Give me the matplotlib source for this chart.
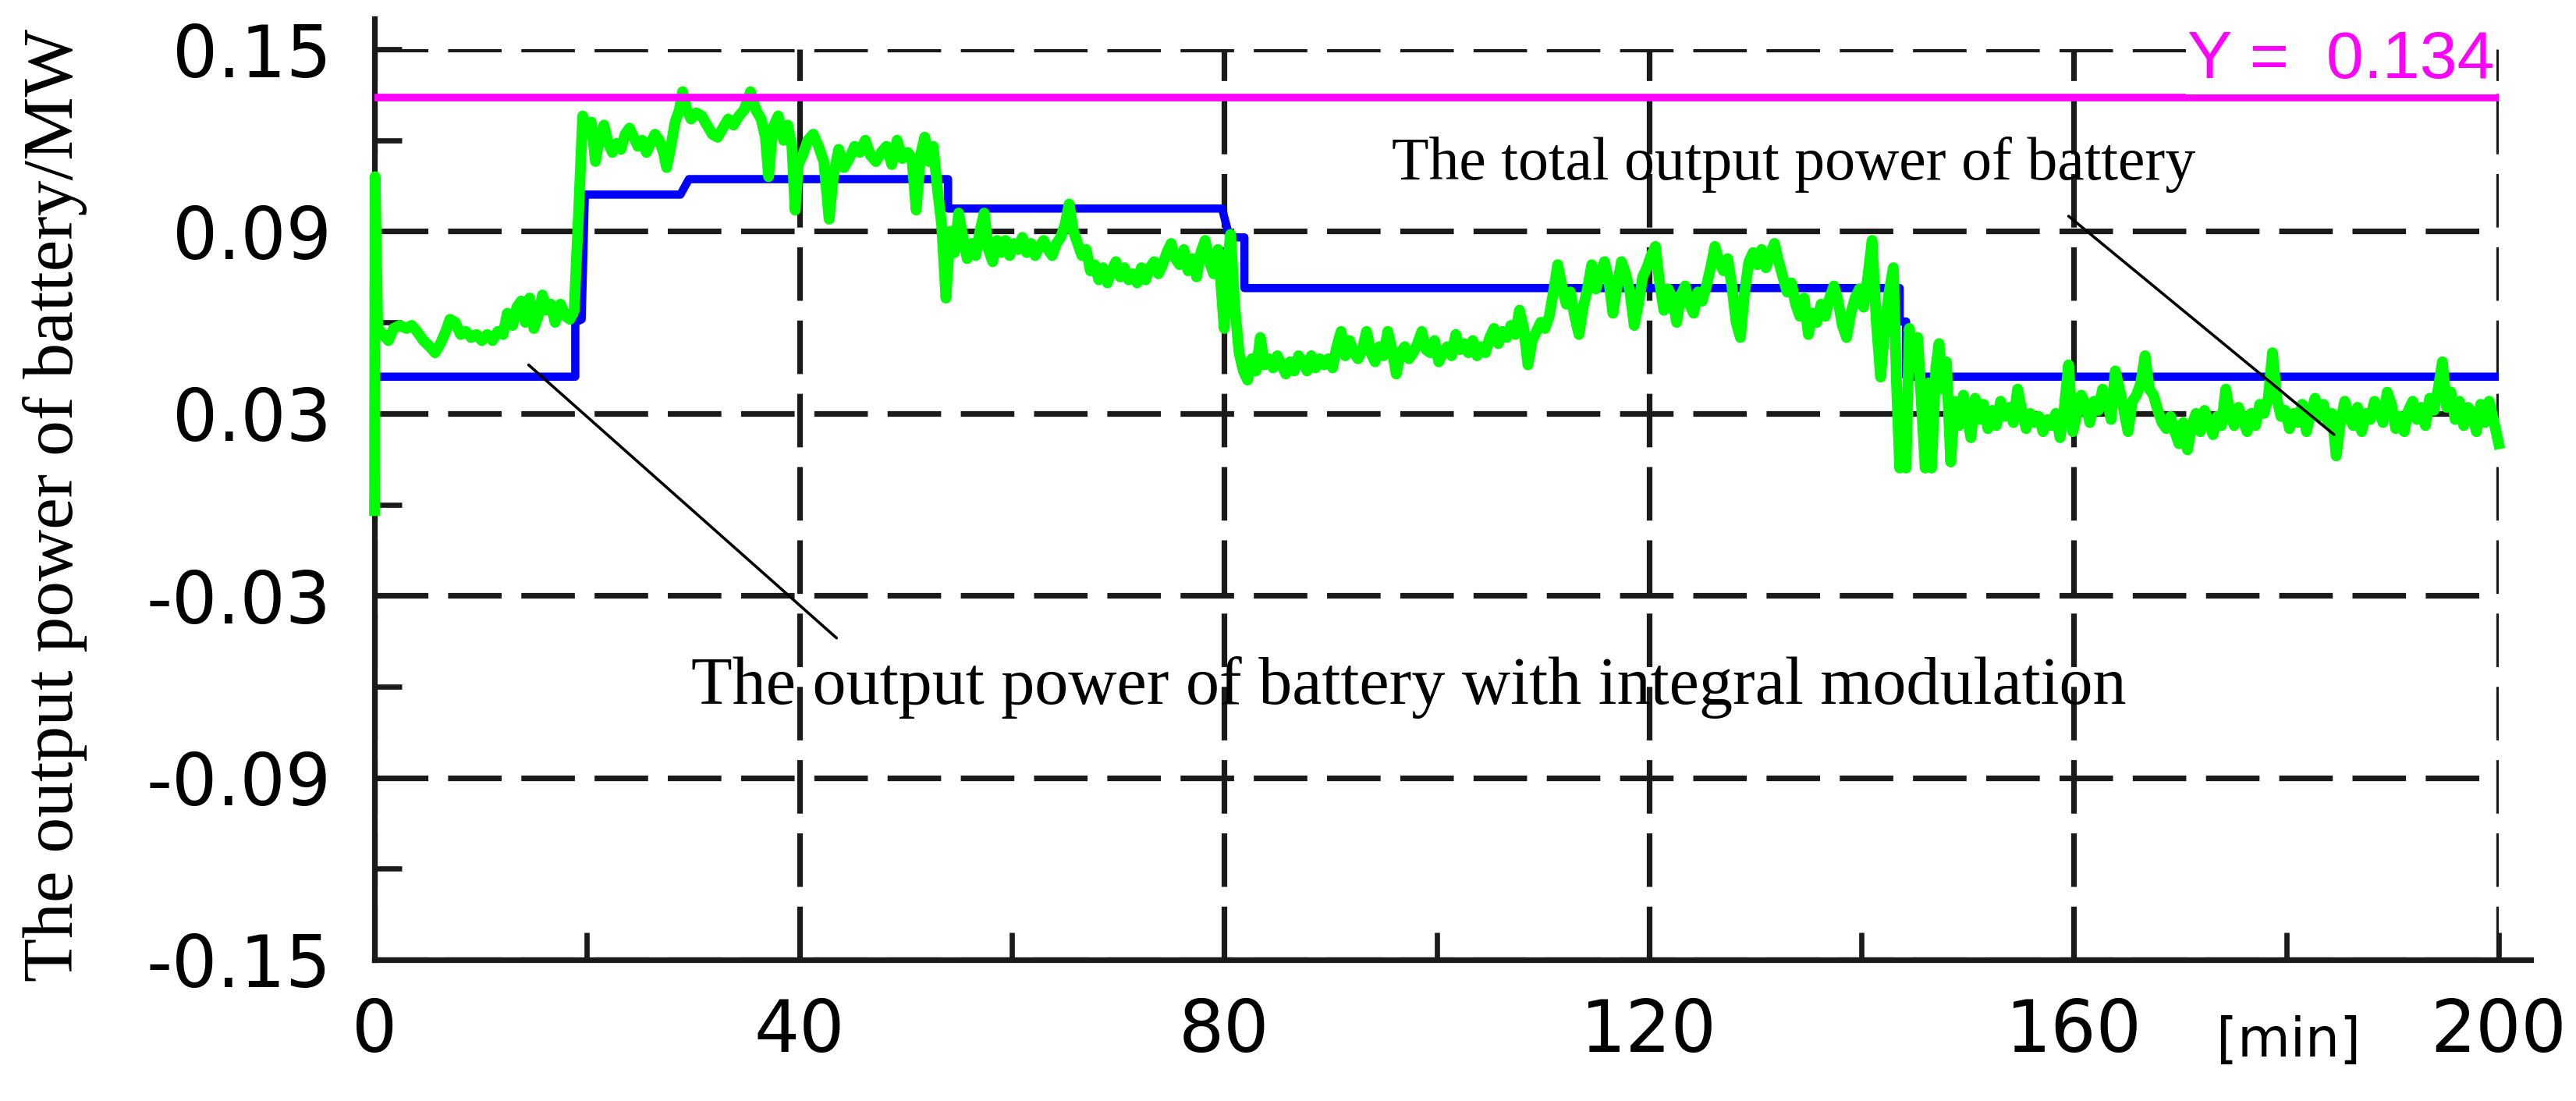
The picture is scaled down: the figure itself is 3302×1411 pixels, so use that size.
import matplotlib
matplotlib.use("Agg")
import matplotlib.pyplot as plt
from matplotlib.ticker import FixedLocator, FixedFormatter

plt.rcParams["axes.unicode_minus"] = False

# ── data ────────────────────────────────────────────────────────────
# total output power of battery (green), (minute, MW)
total_seg1 = [
    (0.0, -0.002), (0.05, 0.108), (0.3, 0.058), (0.8, 0.056), (1.3, 0.054),
    (1.8, 0.058), (2.4, 0.059), (3.0, 0.058), (3.5, 0.059), (4.0, 0.057),
    (4.6, 0.054), (5.2, 0.052), (5.7, 0.050), (6.2, 0.053), (6.7, 0.057),
    (7.1, 0.061), (7.6, 0.060), (8.1, 0.056), (8.6, 0.057), (9.1, 0.055),
    (9.6, 0.056), (10.1, 0.054), (10.6, 0.056), (11.1, 0.054), (11.6, 0.057),
    (12.1, 0.056), (12.5, 0.063), (13.0, 0.059), (13.4, 0.065), (13.8, 0.067),
    (14.2, 0.060), (14.6, 0.068), (15.0, 0.058), (15.4, 0.062), (15.8, 0.069),
    (16.2, 0.064), (16.6, 0.066), (17.0, 0.060), (17.5, 0.066), (18.0, 0.062),
    (18.4, 0.061), (18.8, 0.064), (19.0, 0.080), (19.2, 0.095), (19.4, 0.112),
]
total_seg2 = [
    (19.6, 0.128), (20.0, 0.122), (20.4, 0.126), (20.8, 0.113), (21.2, 0.121),
    (21.6, 0.125), (22.0, 0.119), (22.4, 0.116), (22.8, 0.119), (23.2, 0.117),
    (23.6, 0.122), (24.0, 0.124), (24.4, 0.121), (24.8, 0.118), (25.2, 0.120),
    (25.6, 0.116), (26.0, 0.119), (26.4, 0.122), (26.8, 0.120), (27.2, 0.116),
    (27.5, 0.111), (27.9, 0.118), (28.3, 0.126), (28.7, 0.130), (29.0, 0.136),
    (29.4, 0.130), (29.8, 0.127), (30.3, 0.129), (30.8, 0.128), (31.3, 0.125),
    (31.8, 0.122), (32.3, 0.121), (32.8, 0.124), (33.3, 0.127), (33.8, 0.125),
    (34.3, 0.128), (34.8, 0.130), (35.4, 0.136), (35.9, 0.130), (36.4, 0.127),
    (36.8, 0.121), (37.1, 0.108), (37.5, 0.124), (38.0, 0.128), (38.5, 0.120),
    (38.9, 0.125), (39.3, 0.118), (39.6, 0.097), (39.9, 0.112), (40.3, 0.115),
    (40.8, 0.120), (41.3, 0.122), (41.8, 0.118), (42.3, 0.113), (42.8, 0.094),
    (43.2, 0.108), (43.7, 0.117), (44.2, 0.111), (44.7, 0.114), (45.2, 0.118),
    (45.7, 0.116), (46.2, 0.120), (46.7, 0.115), (47.2, 0.113), (47.7, 0.116),
    (48.2, 0.118), (48.7, 0.112), (49.2, 0.120), (49.7, 0.114), (50.2, 0.116),
]
total_seg3 = [
    (50.6, 0.114), (51.0, 0.097), (51.4, 0.115), (51.8, 0.121), (52.2, 0.113),
    (52.6, 0.118), (53.0, 0.104), (53.4, 0.092), (53.8, 0.068), (54.2, 0.090),
    (54.6, 0.083), (55.0, 0.096), (55.4, 0.088), (55.8, 0.081), (56.2, 0.086),
    (56.6, 0.082), (57.0, 0.090), (57.4, 0.096), (57.8, 0.084), (58.2, 0.080),
    (58.6, 0.087), (59.0, 0.083), (59.4, 0.087), (59.8, 0.082), (60.2, 0.086),
    (60.6, 0.084), (61.0, 0.088), (61.4, 0.083), (61.8, 0.086), (62.2, 0.082),
    (62.6, 0.085), (63.0, 0.087), (63.4, 0.084), (63.8, 0.082), (64.2, 0.086),
    (64.6, 0.088), (65.0, 0.092), (65.4, 0.099), (65.8, 0.090), (66.2, 0.086),
    (66.6, 0.082), (67.0, 0.084), (67.4, 0.077), (67.8, 0.079), (68.2, 0.074),
    (68.6, 0.078), (69.0, 0.073), (69.4, 0.077), (69.8, 0.080), (70.2, 0.075),
    (70.6, 0.078), (71.0, 0.074), (71.4, 0.076), (71.8, 0.073), (72.2, 0.078),
    (72.6, 0.074), (73.0, 0.078), (73.4, 0.080), (73.8, 0.076), (74.2, 0.079),
    (74.6, 0.083), (75.0, 0.086), (75.4, 0.081), (75.8, 0.079), (76.2, 0.084),
    (76.6, 0.077), (77.0, 0.081), (77.4, 0.075), (77.8, 0.083), (78.2, 0.087),
    (78.6, 0.080), (79.0, 0.076), (79.4, 0.084), (79.7, 0.072), (80.0, 0.058),
    (80.3, 0.079), (80.6, 0.089), (81.0, 0.065), (81.4, 0.050), (81.8, 0.044),
    (82.2, 0.041), (82.6, 0.048), (83.0, 0.044), (83.4, 0.055), (83.8, 0.046),
    (84.2, 0.048), (84.6, 0.045), (85.0, 0.049), (85.4, 0.046), (85.8, 0.043),
    (86.2, 0.047), (86.6, 0.044), (87.0, 0.049), (87.4, 0.047), (87.8, 0.044),
    (88.2, 0.049), (88.6, 0.045), (89.0, 0.048), (89.4, 0.046), (89.8, 0.048),
    (90.2, 0.045), (90.6, 0.052), (91.0, 0.057), (91.4, 0.049), (91.8, 0.054),
    (92.2, 0.050), (92.6, 0.048), (93.0, 0.051), (93.4, 0.057), (93.8, 0.050),
    (94.2, 0.047), (94.6, 0.052), (95.0, 0.049), (95.4, 0.057), (95.8, 0.051),
    (96.2, 0.043), (96.6, 0.050), (97.0, 0.052), (97.4, 0.048), (97.8, 0.050),
    (98.2, 0.053), (98.6, 0.057), (99.0, 0.051), (99.4, 0.050), (99.8, 0.054),
]
total_seg4 = [
    (100.2, 0.047), (100.6, 0.050), (101.0, 0.052), (101.4, 0.049), (101.8, 0.056),
    (102.2, 0.051), (102.6, 0.053), (103.0, 0.050), (103.4, 0.054), (103.8, 0.049),
    (104.2, 0.052), (104.6, 0.050), (105.0, 0.055), (105.4, 0.058), (105.8, 0.053),
    (106.2, 0.057), (106.6, 0.055), (107.0, 0.059), (107.4, 0.056), (107.8, 0.064),
    (108.2, 0.058), (108.6, 0.046), (109.0, 0.054), (109.4, 0.057), (109.8, 0.060),
    (110.2, 0.058), (110.6, 0.062), (111.0, 0.070), (111.4, 0.079), (111.8, 0.072),
    (112.2, 0.066), (112.6, 0.070), (113.0, 0.062), (113.4, 0.056), (113.8, 0.065),
    (114.2, 0.071), (114.6, 0.079), (115.0, 0.071), (115.4, 0.076), (115.8, 0.080),
    (116.2, 0.074), (116.6, 0.063), (117.0, 0.072), (117.4, 0.080), (117.8, 0.076),
    (118.2, 0.070), (118.6, 0.059), (119.0, 0.066), (119.4, 0.075), (119.8, 0.078),
    (120.2, 0.082), (120.6, 0.085), (121.0, 0.073), (121.4, 0.064), (121.8, 0.071),
    (122.2, 0.068), (122.6, 0.060), (123.0, 0.069), (123.4, 0.072), (123.8, 0.066),
    (124.2, 0.063), (124.6, 0.070), (125.0, 0.067), (125.4, 0.072), (125.8, 0.078),
    (126.2, 0.085), (126.6, 0.080), (127.0, 0.077), (127.4, 0.081), (127.8, 0.072),
    (128.2, 0.060), (128.6, 0.055), (129.0, 0.070), (129.4, 0.080), (129.8, 0.083),
    (130.2, 0.079), (130.6, 0.084), (131.0, 0.078), (131.4, 0.082), (131.8, 0.086),
    (132.2, 0.080), (132.6, 0.075), (133.0, 0.070), (133.4, 0.073), (133.8, 0.066),
    (134.2, 0.062), (134.6, 0.068), (135.0, 0.056), (135.4, 0.063), (135.8, 0.060),
    (136.2, 0.066), (136.6, 0.062), (137.0, 0.068), (137.4, 0.072), (137.8, 0.067),
    (138.2, 0.059), (138.6, 0.055), (139.0, 0.063), (139.4, 0.068), (139.8, 0.071),
    (140.2, 0.065), (140.6, 0.075), (141.0, 0.087), (141.4, 0.060), (141.8, 0.042),
    (142.2, 0.058), (142.6, 0.070), (143.0, 0.078), (143.3, 0.040), (143.6, 0.012),
    (143.9, 0.030), (144.2, 0.012), (144.5, 0.058), (144.9, 0.045), (145.3, 0.055),
    (145.7, 0.030), (146.0, 0.012), (146.3, 0.040), (146.6, 0.012), (147.0, 0.045),
    (147.3, 0.053), (147.7, 0.038), (148.0, 0.047), (148.4, 0.014), (148.8, 0.034),
    (149.2, 0.026), (149.6, 0.036),
]
total_seg5 = [
    (149.9, 0.030), (150.3, 0.022), (150.7, 0.035), (151.1, 0.028), (151.5, 0.033),
    (151.9, 0.025), (152.3, 0.031), (152.7, 0.026), (153.1, 0.034), (153.5, 0.029),
    (153.9, 0.032), (154.3, 0.027), (154.7, 0.038), (155.1, 0.031), (155.5, 0.025),
    (155.9, 0.030), (156.3, 0.027), (156.7, 0.029), (157.1, 0.024), (157.5, 0.028),
    (157.9, 0.026), (158.3, 0.030), (158.7, 0.022), (159.1, 0.032), (159.5, 0.046),
    (159.9, 0.024), (160.3, 0.030), (160.7, 0.036), (161.1, 0.033), (161.5, 0.027),
    (161.9, 0.034), (162.3, 0.031), (162.7, 0.038), (163.1, 0.035), (163.5, 0.028),
    (163.9, 0.044), (164.3, 0.038), (164.7, 0.031), (165.1, 0.024), (165.5, 0.034),
    (165.9, 0.036), (166.3, 0.040), (166.7, 0.049), (167.1, 0.038), (167.5, 0.036),
    (167.9, 0.031), (168.3, 0.027), (168.7, 0.025), (169.1, 0.029), (169.5, 0.024),
    (169.9, 0.020), (170.3, 0.027), (170.7, 0.018), (171.1, 0.026), (171.5, 0.030),
    (171.9, 0.024), (172.3, 0.031), (172.7, 0.027), (173.1, 0.023), (173.5, 0.029),
    (173.9, 0.026), (174.3, 0.038), (174.7, 0.030), (175.1, 0.026), (175.5, 0.032),
    (175.9, 0.028), (176.3, 0.024), (176.7, 0.030), (177.1, 0.026), (177.5, 0.033),
    (177.9, 0.030), (178.3, 0.035), (178.7, 0.050), (179.1, 0.035), (179.5, 0.029),
    (179.9, 0.031), (180.3, 0.025), (180.7, 0.030), (181.1, 0.027), (181.5, 0.033),
    (181.9, 0.024), (182.3, 0.030), (182.7, 0.035), (183.1, 0.029), (183.5, 0.033),
    (183.9, 0.027), (184.3, 0.030), (184.7, 0.016), (185.1, 0.027), (185.5, 0.034),
    (185.9, 0.029), (186.3, 0.026), (186.7, 0.032), (187.1, 0.024), (187.5, 0.030),
    (187.9, 0.028), (188.3, 0.034), (188.7, 0.031), (189.1, 0.027), (189.5, 0.037),
    (189.9, 0.033), (190.3, 0.025), (190.7, 0.029), (191.1, 0.024), (191.5, 0.031),
    (191.9, 0.034), (192.3, 0.028), (192.7, 0.032), (193.1, 0.026), (193.5, 0.035),
    (193.9, 0.031), (194.3, 0.038), (194.7, 0.047), (195.1, 0.032), (195.5, 0.037),
    (195.9, 0.028), (196.3, 0.034), (196.7, 0.026), (197.1, 0.032), (197.5, 0.030),
    (197.9, 0.024), (198.3, 0.033), (198.7, 0.027), (199.1, 0.034), (199.5, 0.028),
    (200.0, 0.020),
]

# battery output with integral modulation (blue step line)
integral_t = [0, 18.9, 18.9, 19.5, 19.8, 28.8, 29.6, 54.0, 54.0, 79.8, 80.5,
              81.9, 81.9, 143.6, 143.6, 144.2, 144.2, 200]
integral_p = [0.0421, 0.0421, 0.060, 0.061, 0.1021, 0.1021, 0.1072, 0.1072,
              0.0975, 0.0975, 0.088, 0.088, 0.0713, 0.0713, 0.0603, 0.0603,
              0.0421, 0.0421]

ref_limit = 0.134

x_major = [0, 40, 80, 120, 160, 200]
x_minor = [20, 60, 100, 140, 180]
y_major = [0.15, 0.09, 0.03, -0.03, -0.09, -0.15]
y_minor = [0.12, 0.06, 0.0, -0.06, -0.12]
y_labels = ["0.15", "0.09", "0.03", "-0.03", "-0.09", "-0.15"]

total = total_seg1 + total_seg2 + total_seg3 + total_seg4 + total_seg5
total_t = [p[0] for p in total]
total_p = [p[1] for p in total]

# ── figure ──────────────────────────────────────────────────────────
fig = plt.figure(figsize=(16.51, 7.055), dpi=200)
ax = fig.add_axes([0.1454, 0.1283, 0.8246, 0.827])

ax.set_xlim(0, 200)
ax.set_ylim(-0.15, 0.15)

dark = "#1a1a1a"
ax.grid(True, which="major", color=dark, lw=2.6, ls=(0, (9.5, 3.5)))
ax.set_axisbelow(True)

for side in ("top", "right"):
    ax.spines[side].set_visible(False)
for side in ("left", "bottom"):
    ax.spines[side].set_linewidth(2.6)
    ax.spines[side].set_color(dark)
ax.spines["left"].set_bounds(-0.15, 0.16)
ax.spines["bottom"].set_bounds(0, 203)

ax.xaxis.set_major_locator(FixedLocator(x_major))
ax.xaxis.set_minor_locator(FixedLocator(x_minor))
ax.yaxis.set_major_locator(FixedLocator(y_major))
ax.yaxis.set_minor_locator(FixedLocator(y_minor))
ax.yaxis.set_major_formatter(FixedFormatter(y_labels))
ax.tick_params(which="both", direction="in", length=12.5, width=2.4, color=dark)
ax.tick_params(axis="x", which="major", labelsize=33, pad=17)
ax.tick_params(axis="y", which="major", labelsize=33, pad=20)

ax.plot(integral_t, integral_p, color="#0000ff", lw=3.8, zorder=3)
ax.plot(total_t, total_p, color="#00ff00", lw=5.0, zorder=4, clip_on=False)
ax.axhline(ref_limit, color="#ff00ff", lw=3.5, zorder=5)

ax.text(199.6, 0.1405, f"Y =  {ref_limit}", color="#ff00ff",
        family="Liberation Sans", size=31, ha="right", va="baseline",
        zorder=6, bbox=dict(fc="white", ec="none", pad=1))

serif = "Liberation Serif"
ax.text(95.8, 0.1072, "The total output power of battery",
        family=serif, size=28, va="baseline", zorder=6)
ax.annotate("", xy=(184.5, 0.023), xytext=(159.5, 0.095),
            arrowprops=dict(arrowstyle="-", lw=1.3, color="black",
                            shrinkA=0, shrinkB=0), zorder=6)

ax.text(29.8, -0.0656, "The output power of battery with integral modulation",
        family=serif, size=31, va="baseline", zorder=6)
ax.annotate("", xy=(43.5, -0.044), xytext=(14.5, 0.046),
            arrowprops=dict(arrowstyle="-", lw=1.3, color="black",
                            shrinkA=0, shrinkB=0), zorder=6)

ax.text(180.2, -0.09, "[min]", transform=ax.get_xaxis_transform(),
        ha="center", va="center", size=25)

fig.text(0.0212, 0.5408, "The output power of battery/MW", rotation=90,
         ha="center", va="center", family=serif, size=33)

fig.savefig("out.png", dpi=200)
